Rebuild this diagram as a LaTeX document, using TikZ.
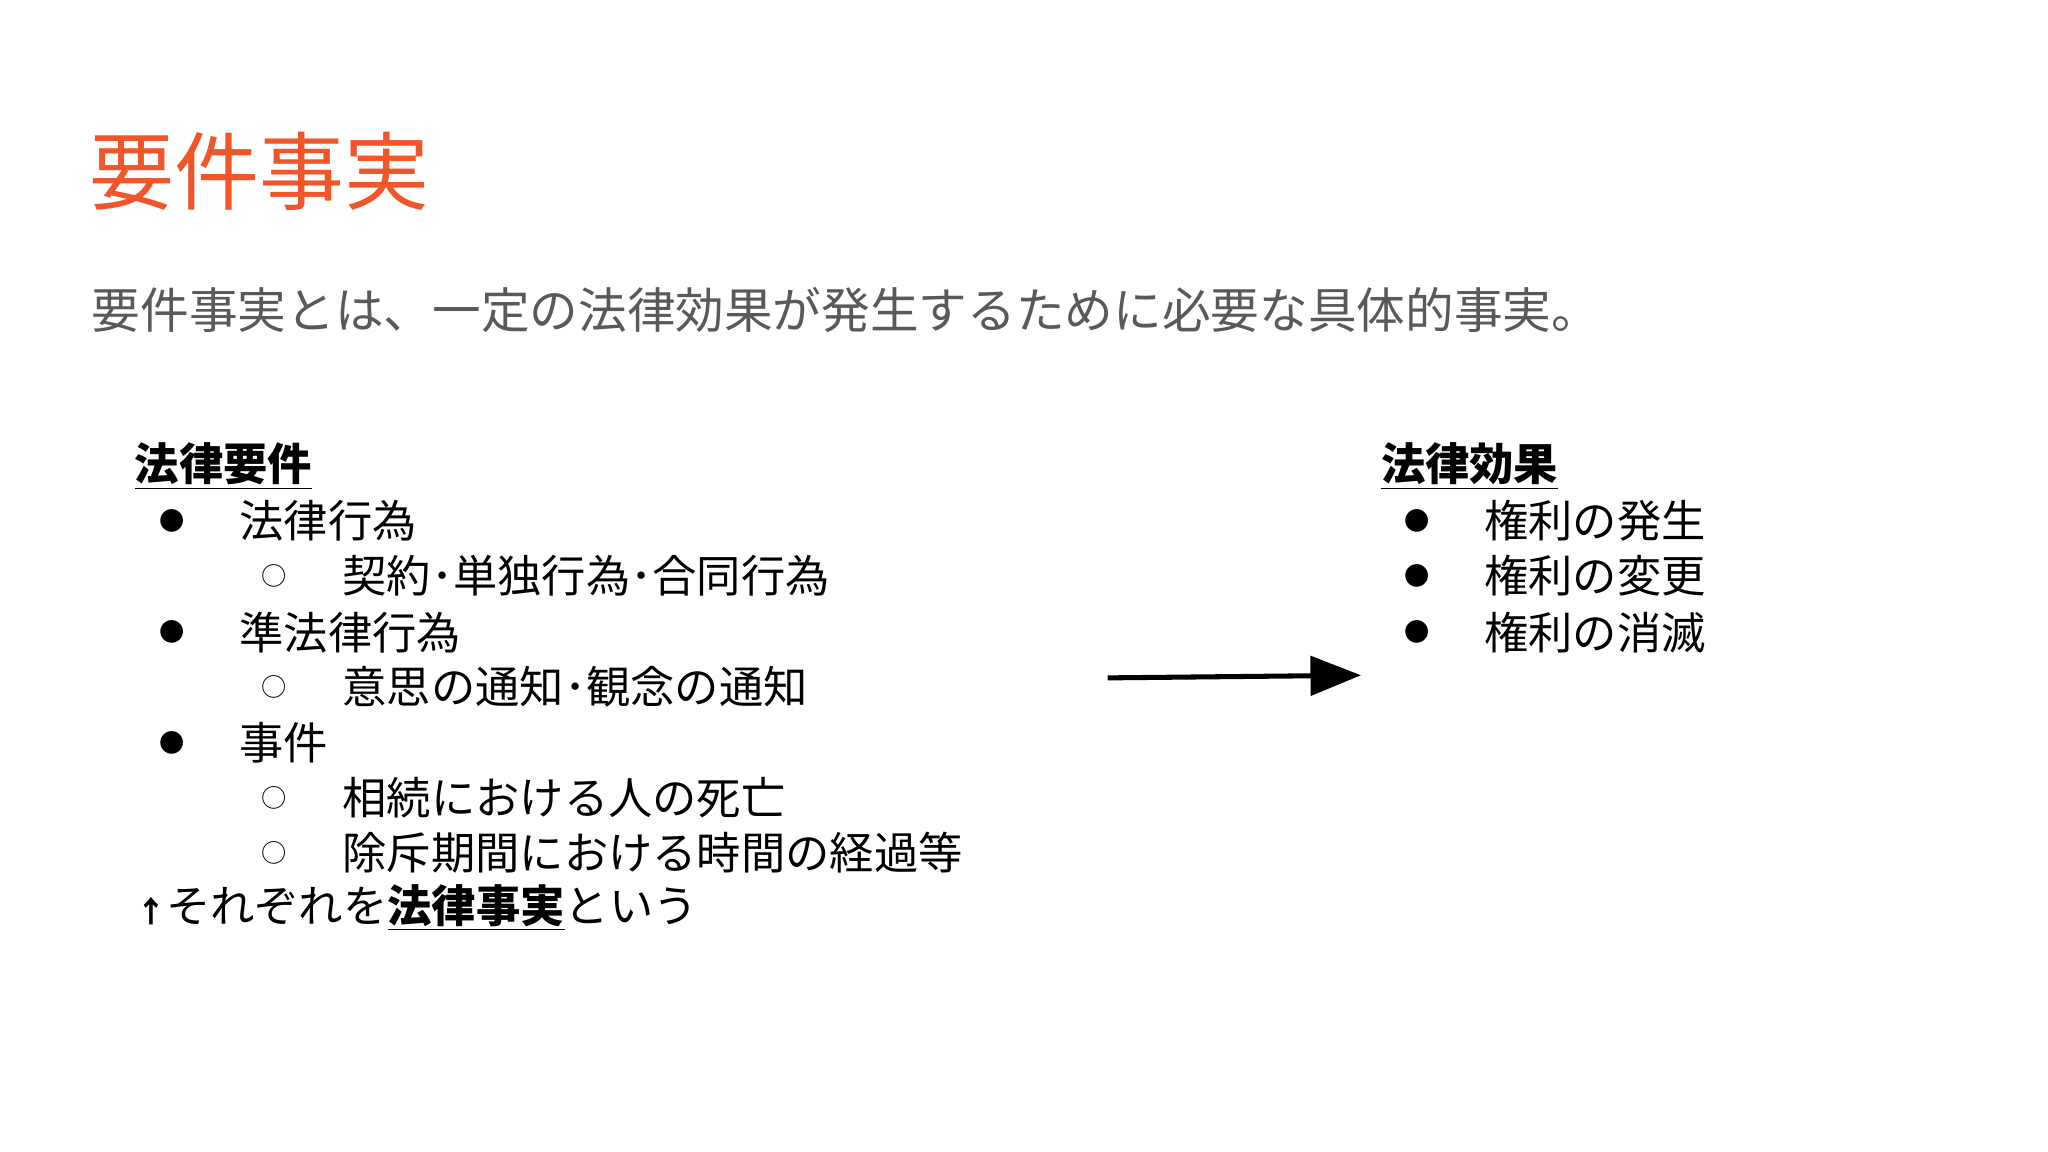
\documentclass[tikz,border=0pt]{standalone}
\usepackage{fontspec}
\setmainfont{Noto Sans CJK JP}
\usetikzlibrary{arrows.meta}
\definecolor{ttl}{HTML}{F0562A}
\definecolor{sub}{HTML}{595959}
\begin{document}
\begin{tikzpicture}[x=0.02cm,y=-0.02cm,
  txt/.style={anchor=west,inner sep=0pt,font=\fontsize{19.3}{21}\selectfont},
  bul/.style={anchor=center,inner sep=0pt,font=\fontsize{11}{12}\selectfont}]
\useasboundingbox[fill=white] (0,0) rectangle (1568,882);
\node[anchor=west,inner sep=0pt,text=ttl,font=\fontsize{37}{40}\selectfont] (title) at (68,131) {要件事実};
\node[anchor=west,inner sep=0pt,text=sub,font=\fontsize{21.2}{23}\selectfont] (subt) at (70,237) {要件事実とは、一定の法律効果が発生するために必要な具体的事実。};
\node[txt] (lh) at (103,357) {\textbf{\underline{法律要件}}};
\foreach \n/\y/\t in {a/399/法律行為, b/484/準法律行為, c/569/事件}{
  \node[bul] (b\n) at (132,\y) {●};
  \node[txt] (t\n) at (183,\y) {\t};}
\foreach \n/\y/\t in {a/441/契約･単独行為･合同行為, b/526/意思の通知･観念の通知, c/611/相続における人の死亡, d/653/除斥期間における時間の経過等}{
  \node[bul] (s\n) at (210,\y) {○};
  \node[txt] (u\n) at (262,\y) {\t};}
\node[txt] (last) at (104,695) {\textbf{\fontsize{13}{13}\selectfont↑}それぞれを\textbf{\underline{法律事実}}という};
\node[txt] (rh) at (1057,357) {\textbf{\underline{法律効果}}};
\foreach \n/\y/\t in {a/399/権利の発生, b/441/権利の変更, c/484/権利の消滅}{
  \node[bul] (r\n) at (1085,\y) {●};
  \node[txt] (q\n) at (1136,\y) {\t};}
\coordinate (p1) at (848,519);
\coordinate (p2) at (1042,517);
\draw[line width=2.2pt,-{Triangle[length=22pt,width=17pt]}] (p1) -- (p2);
\end{tikzpicture}
\end{document}
